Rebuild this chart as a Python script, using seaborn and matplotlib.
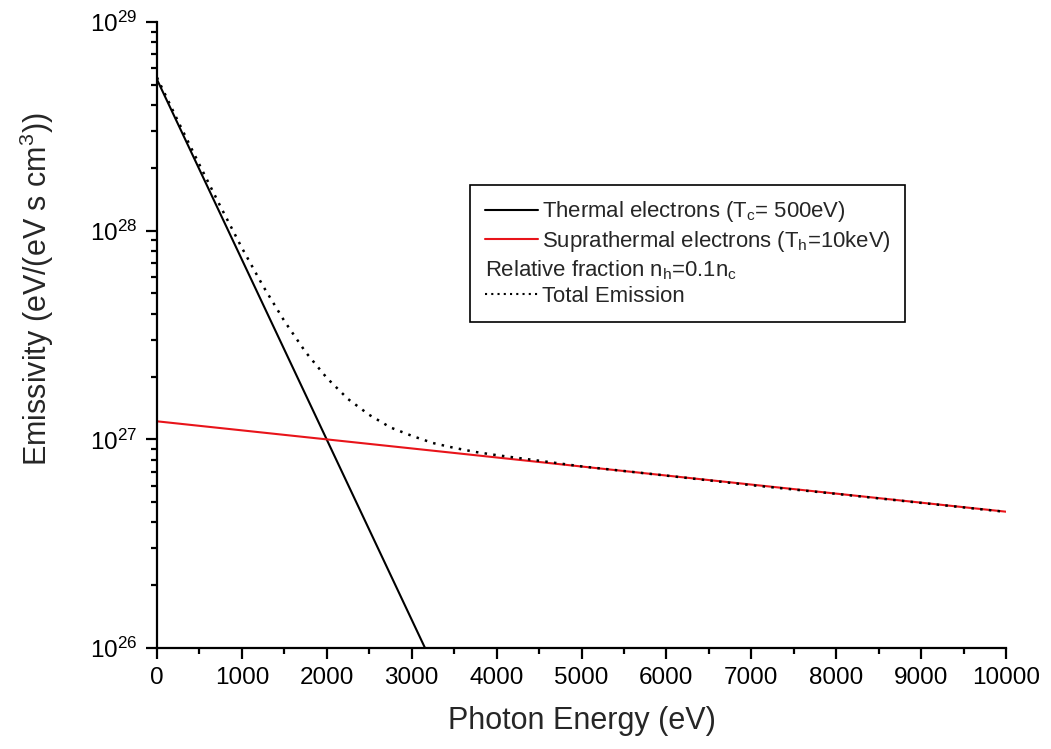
import numpy as np
import pandas as pd
import matplotlib
matplotlib.use("Agg")
import matplotlib.pyplot as plt
from matplotlib.lines import Line2D
from matplotlib.ticker import MultipleLocator, LogLocator, LogFormatterMathtext, NullFormatter
import seaborn as sns

# ---- data ----
thermal_x = [0, 3157]
thermal_y = [5.3e28, 1.0e26]

supra_x = [0, 10000]
supra_y = [1.22e27, 4.5e26]

total_x = [0, 250, 500, 750, 1000, 1250, 1500, 1750, 2000, 2250, 2500, 2750,
           3000, 3250, 3500, 3750, 4000, 4500, 5000, 6000, 7000, 8000, 9000, 10000]
total_y = [5.42e28, 3.33e28, 2.07e28, 1.30e28, 8.27e27, 5.42e27, 3.69e27, 2.62e27,
           1.97e27, 1.56e27, 1.31e27, 1.14e27, 1.04e27, 9.6e26, 9.1e26, 8.7e26,
           8.4e26, 7.9e26, 7.42e26, 6.70e26, 6.03e26, 5.48e26, 4.96e26, 4.49e26]

labels = ["Thermal electrons (T$_\\mathregular{c}$= 500eV)",
          "Suprathermal electrons (T$_\\mathregular{h}$=10keV)",
          "Relative fraction n$_\\mathregular{h}$=0.1n$_\\mathregular{c}$",
          "Total Emission"]

sns.set_style("ticks")
plt.rcParams['font.family'] = ['Liberation Sans', 'DejaVu Sans']
plt.rcParams['mathtext.fontset'] = 'custom'
plt.rcParams['mathtext.rm'] = 'Liberation Sans'
plt.rcParams['mathtext.it'] = 'Liberation Sans'
plt.rcParams['mathtext.default'] = 'regular'

fig = plt.figure(figsize=(10.51, 7.49), dpi=100)
ax = fig.add_axes([157/1051, 1-648/749, (1006-157)/1051, (648-22)/749])

sns.lineplot(x=thermal_x, y=thermal_y, ax=ax, color="black", lw=1.5)
sns.lineplot(x=supra_x, y=supra_y, ax=ax, color="#e8141a", lw=1.5)
sns.lineplot(x=total_x, y=total_y, ax=ax, color="black", lw=1.8, linestyle=(0, (1, 2.5)))

ax.set_yscale("log")
ax.set_xlim(0, 10000)
ax.set_ylim(1e26, 1e29)

ax.xaxis.set_major_locator(MultipleLocator(1000))
ax.xaxis.set_minor_locator(MultipleLocator(500))
ax.yaxis.set_major_locator(LogLocator(base=10, numticks=10))
ax.yaxis.set_major_formatter(LogFormatterMathtext())
ax.yaxis.set_minor_locator(LogLocator(base=10, subs=np.arange(2, 10), numticks=20))
ax.yaxis.set_minor_formatter(NullFormatter())

for s in ["top", "right"]:
    ax.spines[s].set_visible(False)
for s in ["left", "bottom"]:
    ax.spines[s].set_linewidth(1.6)
    ax.spines[s].set_color("black")

ax.tick_params(axis="both", which="major", direction="out", length=8, width=1.6,
               labelsize=17.5, colors="black", pad=6)
ax.tick_params(axis="both", which="minor", direction="out", length=4.5, width=1.6,
               colors="black")

ax.set_xlabel("Photon Energy (eV)", fontsize=22, labelpad=12)
ax.set_ylabel("Emissivity (eV/(eV s cm$^\\mathregular{3}$))", fontsize=22)
ax.yaxis.set_label_coords(-0.119, 0.573)

handles = [Line2D([], [], color="black", lw=1.5),
           Line2D([], [], color="#e8141a", lw=1.5),
           Line2D([], [], color="none", lw=0),
           Line2D([], [], color="black", lw=1.5, linestyle=(0, (1, 2)))]
leg = ax.legend(handles, labels, loc="upper left", bbox_to_anchor=(0.369, 0.7396),
                fontsize=15.9, frameon=True, fancybox=False, edgecolor="black",
                handlelength=2.4, handletextpad=0.2, labelspacing=0.2,
                borderpad=0.65, borderaxespad=0)
leg.get_frame().set_linewidth(1.2)
leg.get_frame().set_alpha(1)
# third entry: text without handle, starting at the handle position
try:
    rows = leg._legend_handle_box.get_children()[0].get_children()
    row = rows[2]
    row._children = [c for c in row._children if c.__class__.__name__ != "DrawingArea"]
except Exception:
    pass

fig.savefig("out.png", dpi=100)
